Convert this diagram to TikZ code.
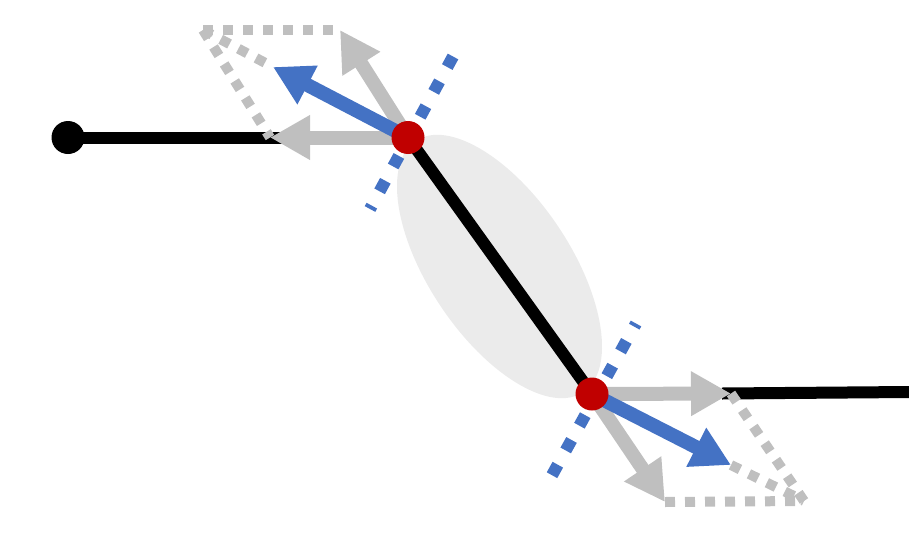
\documentclass[tikz,border=0pt]{standalone}
\usetikzlibrary{arrows.meta}
\definecolor{gbar}{HTML}{BFBFBF}
\definecolor{bluearr}{HTML}{4472C4}
\definecolor{reddot}{HTML}{C00000}
\definecolor{ellfill}{HTML}{EBEBEB}
\begin{document}
\begin{tikzpicture}[x=1pt,y=-1pt,
  blackline/.style={line width=12pt, black},
  grayarrow/.style={line width=14pt, gbar, -{Triangle[length=40pt,width=42pt]}},
  bluearrow/.style={line width=14pt, bluearr, -{Triangle[length=39pt,width=41pt]}},
  graydots/.style={line width=10pt, gbar, dash pattern=on 10pt off 10pt},
  bluedots/.style={line width=12pt, bluearr, dash pattern=on 12pt off 16.3pt},
  jointdot/.style={circle, fill=reddot, minimum size=33pt, inner sep=0pt},
  enddot/.style={circle, fill=black, minimum size=33pt, inner sep=0pt}]
\useasboundingbox (0,0) rectangle (909,546);
% key points
\coordinate (c1) at (408,137.5);
\coordinate (c2) at (592,394);
\coordinate (ec) at (499.5,266.5);
\coordinate (lend) at (282,137.5);
\coordinate (rstart) at (722,393.5);
\coordinate (redge) at (909,392);
\coordinate (t1L) at (270,137.5);
\coordinate (t1U) at (340,30);
\coordinate (k1) at (203,30);
\coordinate (b1) at (273,67);
\coordinate (t2R) at (731,393.5);
\coordinate (t2D) at (665,502);
\coordinate (k2) at (804,501);
\coordinate (b2) at (731,465);
\coordinate (d1a) at (453,56.5);
\coordinate (d1b) at (370,209);
\coordinate (d2a) at (552,475.2);
\coordinate (d2b) at (636,323.5);
% ellipse
\fill[ellfill, rotate around={-56.3:(ec)}] (ec) ellipse [x radius=151, y radius=71];
% black lines
\node[enddot] (p0) at (68,137.5) {};
\draw[blackline] (p0.center) -- (lend);
\draw[blackline] (c1) -- (c2);
\draw[blackline] (rstart) -- (redge);
% gray dotted parallelograms
\draw[graydots] (k1) -- (t1U);
\draw[graydots] (k1) -- (t1L);
\draw[graydots] (k1) -- (b1);
\draw[graydots] (t2D) -- (k2);
\draw[graydots] (t2R) -- (k2);
\draw[graydots] (b2) -- (k2);
% gray arrows
\draw[grayarrow] (c1) -- (t1L);
\draw[grayarrow] (c1) -- (t1U);
\draw[grayarrow] (c2) -- (t2R);
\draw[grayarrow] (c2) -- (t2D);
% blue arrows
\draw[bluearrow] (c1) -- (b1);
\draw[bluearrow] (c2) -- (b2);
% blue dotted lines
\draw[bluedots] (d1a) -- (d1b);
\draw[bluedots] (d2a) -- (d2b);
% red joints
\node[jointdot] (r1) at (c1) {};
\node[jointdot] (r2) at (c2) {};
\end{tikzpicture}
\end{document}
